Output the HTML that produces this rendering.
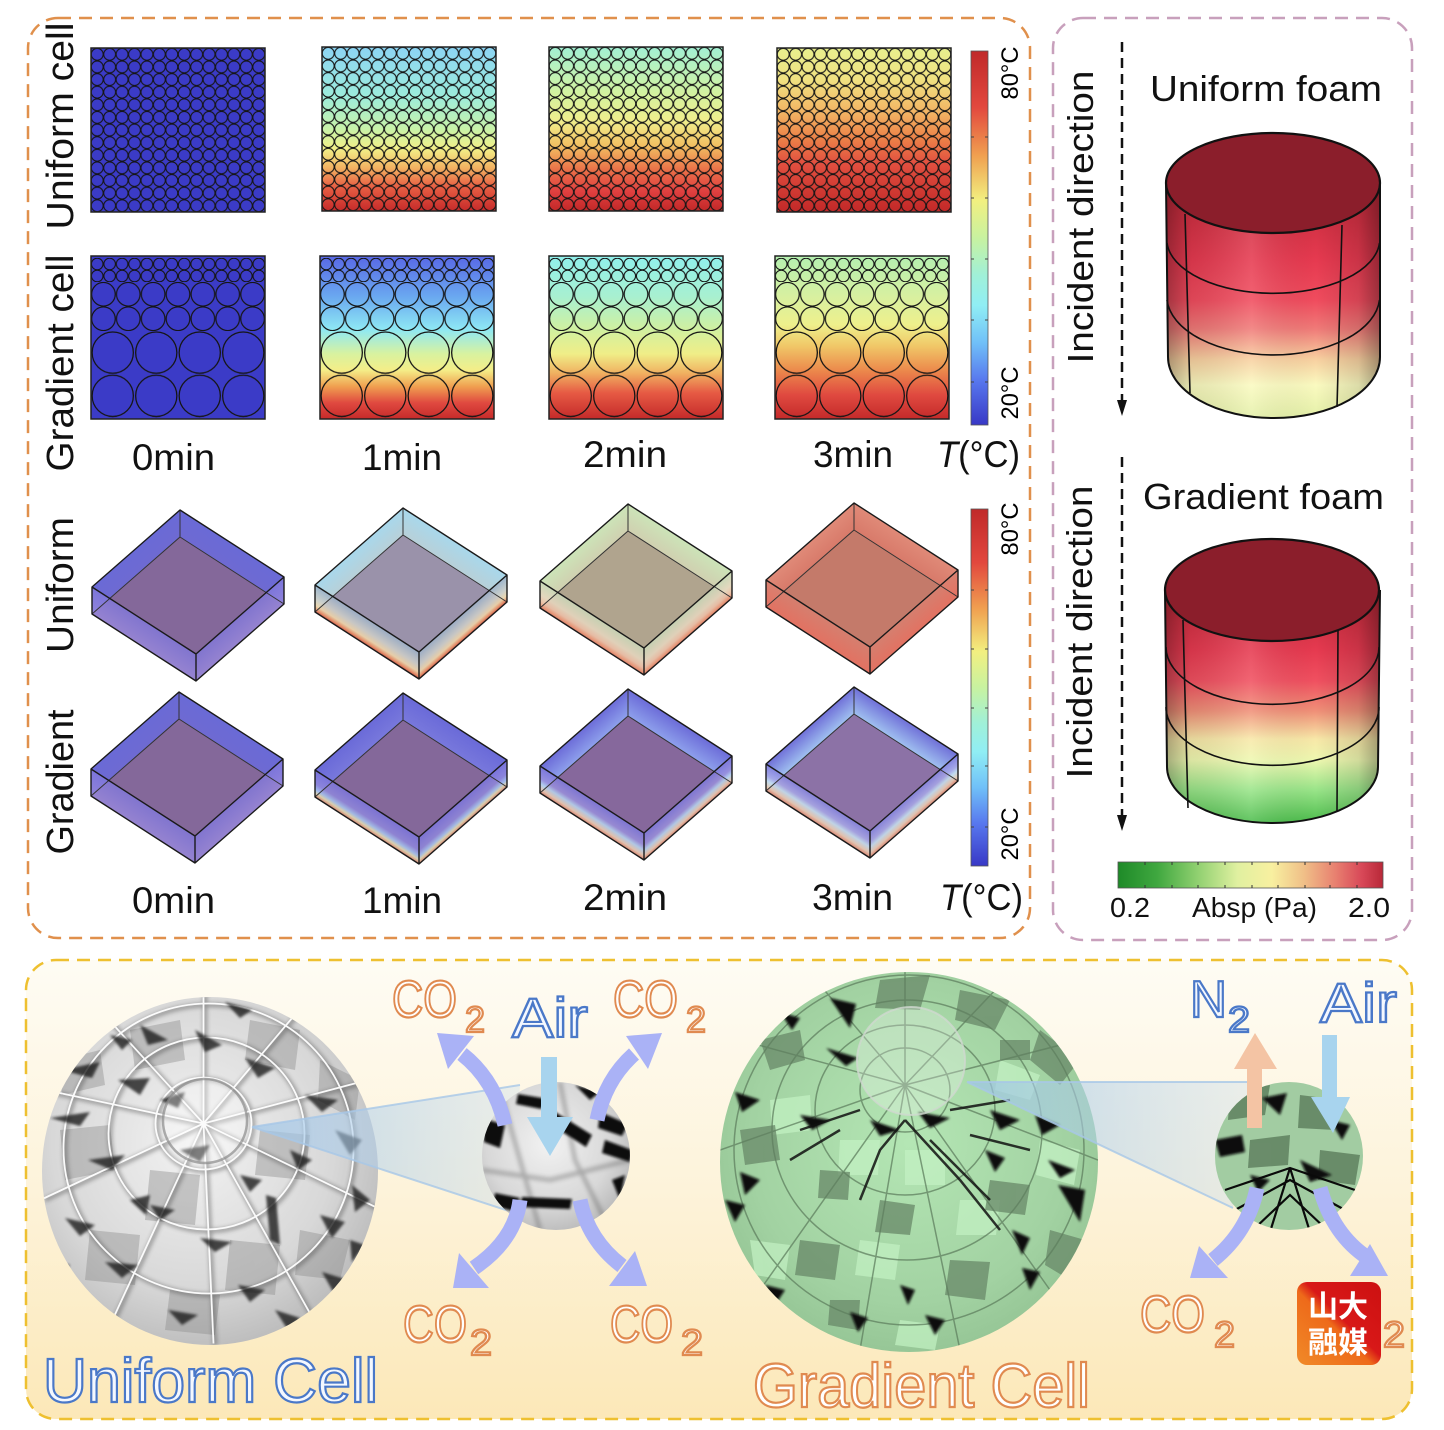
<!DOCTYPE html>
<html><head><meta charset="utf-8">
<style>
html,body{margin:0;padding:0;background:#fff}
svg{display:block}
text{font-family:"Liberation Sans","Noto Sans CJK SC",sans-serif}
</style></head>
<body>
<svg width="1444" height="1430" viewBox="0 0 1444 1430" xmlns="http://www.w3.org/2000/svg">
<defs>
<linearGradient id="cbar" x1="0" y1="0" x2="0" y2="1">
 <stop offset="0" stop-color="#c02a2a"/><stop offset="0.15" stop-color="#e2483e"/>
 <stop offset="0.28" stop-color="#f0a050"/><stop offset="0.4" stop-color="#f2f080"/>
 <stop offset="0.5" stop-color="#c8f2a0"/><stop offset="0.6" stop-color="#a0f0d8"/>
 <stop offset="0.68" stop-color="#90eef4"/><stop offset="0.78" stop-color="#70c0f8"/>
 <stop offset="0.88" stop-color="#5878ee"/><stop offset="1" stop-color="#3838c6"/>
</linearGradient>
<linearGradient id="gu1" x1="0" y1="0" x2="0" y2="1">
 <stop offset="0" stop-color="#8cd4f4"/><stop offset="0.3" stop-color="#9cecdc"/>
 <stop offset="0.5" stop-color="#c8f2a8"/><stop offset="0.62" stop-color="#f2f088"/>
 <stop offset="0.74" stop-color="#f2b060"/><stop offset="0.85" stop-color="#e86044"/>
 <stop offset="1" stop-color="#c62a2a"/>
</linearGradient>
<linearGradient id="gu2" x1="0" y1="0" x2="0" y2="1">
 <stop offset="0" stop-color="#a2f0d4"/><stop offset="0.28" stop-color="#d2f2a0"/>
 <stop offset="0.45" stop-color="#f0ee8c"/><stop offset="0.6" stop-color="#f2c062"/>
 <stop offset="0.75" stop-color="#ea7048"/><stop offset="0.88" stop-color="#e04040"/>
 <stop offset="1" stop-color="#c22828"/>
</linearGradient>
<linearGradient id="gu3" x1="0" y1="0" x2="0" y2="1">
 <stop offset="0" stop-color="#e8f08e"/><stop offset="0.2" stop-color="#f0e080"/>
 <stop offset="0.4" stop-color="#f2b262"/><stop offset="0.55" stop-color="#ec8248"/>
 <stop offset="0.7" stop-color="#e25040"/><stop offset="1" stop-color="#c22828"/>
</linearGradient>
<linearGradient id="gg1" x1="0" y1="0" x2="0" y2="1">
 <stop offset="0" stop-color="#5868e6"/><stop offset="0.25" stop-color="#6aa8f0"/>
 <stop offset="0.45" stop-color="#8ee8f4"/><stop offset="0.6" stop-color="#d8f2a0"/>
 <stop offset="0.7" stop-color="#f4ee88"/><stop offset="0.8" stop-color="#f0a050"/>
 <stop offset="0.9" stop-color="#e04a40"/><stop offset="1" stop-color="#c62a2a"/>
</linearGradient>
<linearGradient id="gg2" x1="0" y1="0" x2="0" y2="1">
 <stop offset="0" stop-color="#90f0ec"/><stop offset="0.25" stop-color="#a8f0d0"/>
 <stop offset="0.45" stop-color="#d0f0a0"/><stop offset="0.6" stop-color="#f0ee88"/>
 <stop offset="0.72" stop-color="#f0b060"/><stop offset="0.84" stop-color="#e65a44"/>
 <stop offset="1" stop-color="#c42a2a"/>
</linearGradient>
<linearGradient id="gg3" x1="0" y1="0" x2="0" y2="1">
 <stop offset="0" stop-color="#b4f0b0"/><stop offset="0.25" stop-color="#d8f0a0"/>
 <stop offset="0.42" stop-color="#eef08c"/><stop offset="0.55" stop-color="#f0c868"/>
 <stop offset="0.7" stop-color="#ec8a4c"/><stop offset="0.85" stop-color="#e04a40"/>
 <stop offset="1" stop-color="#c42a2a"/>
</linearGradient>
<pattern id="pU" patternUnits="userSpaceOnUse" x="0" y="0" width="12.4286" height="12.615"><circle cx="6.214" cy="6.31" r="5.95" fill="none" stroke="#151515" stroke-width="1.1"/></pattern>
<pattern id="pS" patternUnits="userSpaceOnUse" x="0" y="2" width="12.4286" height="12"><circle cx="6.214" cy="6" r="5.8" fill="none" stroke="#151515" stroke-width="1.1"/></pattern>
<pattern id="pM" patternUnits="userSpaceOnUse" x="0" y="26" width="24.857" height="24.5"><circle cx="12.43" cy="12.25" r="11.8" fill="none" stroke="#151515" stroke-width="1.2"/></pattern>
<pattern id="pL" patternUnits="userSpaceOnUse" x="0" y="75" width="43.5" height="43.2"><circle cx="21.75" cy="21.6" r="20.6" fill="none" stroke="#151515" stroke-width="1.3"/></pattern>

<linearGradient id="b0" x1="0" y1="0" x2="0" y2="1"><stop offset="0" stop-color="#6a6ad6"/><stop offset="1" stop-color="#6e6ad2"/></linearGradient>
<linearGradient id="f0" x1="0" y1="0" x2="0" y2="1"><stop offset="0" stop-color="#8078dc"/><stop offset="1" stop-color="#9a8ade"/></linearGradient>
<linearGradient id="b1" x1="0" y1="0" x2="0" y2="1"><stop offset="0" stop-color="#a8d8ec"/><stop offset="1" stop-color="#b8d0d8"/></linearGradient>
<linearGradient id="f1" x1="0" y1="0" x2="0" y2="1"><stop offset="0" stop-color="#9ab0c8"/><stop offset="0.5" stop-color="#d0d0c8"/><stop offset="0.75" stop-color="#f4d8a8"/><stop offset="0.9" stop-color="#f09060"/><stop offset="1" stop-color="#d84838"/></linearGradient>
<linearGradient id="b2" x1="0" y1="0" x2="0" y2="1"><stop offset="0" stop-color="#cce4b8"/><stop offset="1" stop-color="#d0d0b0"/></linearGradient>
<linearGradient id="f2" x1="0" y1="0" x2="0" y2="1"><stop offset="0" stop-color="#c8d8b8"/><stop offset="0.5" stop-color="#e8d8c0"/><stop offset="0.75" stop-color="#f0c0a8"/><stop offset="0.9" stop-color="#f09878"/><stop offset="1" stop-color="#e07060"/></linearGradient>
<linearGradient id="b3" x1="0" y1="0" x2="0" y2="1"><stop offset="0" stop-color="#e08a78"/><stop offset="1" stop-color="#d87a6a"/></linearGradient>
<linearGradient id="f3" x1="0" y1="0" x2="0" y2="1"><stop offset="0" stop-color="#d88070"/><stop offset="1" stop-color="#e87060"/></linearGradient>
<linearGradient id="bg1" x1="0" y1="0" x2="0" y2="1"><stop offset="0" stop-color="#6a6ad8"/><stop offset="1" stop-color="#7878dc"/></linearGradient>
<linearGradient id="fg1" x1="0" y1="0" x2="0" y2="1"><stop offset="0" stop-color="#7a74dc"/><stop offset="0.5" stop-color="#9088dc"/><stop offset="0.72" stop-color="#a8c8f0"/><stop offset="0.85" stop-color="#e8e0b0"/><stop offset="1" stop-color="#e88868"/></linearGradient>
<linearGradient id="bg2" x1="0" y1="0" x2="0" y2="1"><stop offset="0" stop-color="#6c6cd8"/><stop offset="1" stop-color="#8ea0ec"/></linearGradient>
<linearGradient id="fg2" x1="0" y1="0" x2="0" y2="1"><stop offset="0" stop-color="#7c78dc"/><stop offset="0.45" stop-color="#9a90dc"/><stop offset="0.65" stop-color="#b8d8f0"/><stop offset="0.85" stop-color="#f0d0b0"/><stop offset="1" stop-color="#e88868"/></linearGradient>
<linearGradient id="bg3" x1="0" y1="0" x2="0" y2="1"><stop offset="0" stop-color="#7070d8"/><stop offset="1" stop-color="#a0c0f0"/></linearGradient>
<linearGradient id="fg3" x1="0" y1="0" x2="0" y2="1"><stop offset="0" stop-color="#8484e0"/><stop offset="0.4" stop-color="#a8a8e8"/><stop offset="0.6" stop-color="#c8e4f0"/><stop offset="0.82" stop-color="#f0d0b0"/><stop offset="1" stop-color="#e88868"/></linearGradient>

<linearGradient id="cylU" gradientUnits="userSpaceOnUse" x1="0" y1="183" x2="0" y2="418">
 <stop offset="0" stop-color="#c02838"/><stop offset="0.33" stop-color="#e63a50"/>
 <stop offset="0.5" stop-color="#f04c5e"/><stop offset="0.62" stop-color="#f07a78"/>
 <stop offset="0.75" stop-color="#f8d0a0"/><stop offset="0.86" stop-color="#fafac0"/>
 <stop offset="1" stop-color="#e4f0a8"/>
</linearGradient>
<linearGradient id="cylG" gradientUnits="userSpaceOnUse" x1="0" y1="590" x2="0" y2="823">
 <stop offset="0" stop-color="#c02838"/><stop offset="0.26" stop-color="#e63a50"/>
 <stop offset="0.39" stop-color="#f05060"/><stop offset="0.52" stop-color="#f09078"/>
 <stop offset="0.64" stop-color="#f8e8a8"/><stop offset="0.73" stop-color="#eef8b0"/>
 <stop offset="0.86" stop-color="#98e488"/><stop offset="1" stop-color="#4cbc4c"/>
</linearGradient>
<linearGradient id="cylShade" x1="0" y1="0" x2="1" y2="0">
 <stop offset="0" stop-color="#000" stop-opacity="0.32"/><stop offset="0.12" stop-color="#000" stop-opacity="0.08"/>
 <stop offset="0.4" stop-color="#fff" stop-opacity="0.12"/><stop offset="0.7" stop-color="#000" stop-opacity="0"/>
 <stop offset="0.9" stop-color="#000" stop-opacity="0.12"/><stop offset="1" stop-color="#000" stop-opacity="0.35"/>
</linearGradient>
<linearGradient id="absp" x1="0" y1="0" x2="1" y2="0">
 <stop offset="0" stop-color="#1e8a28"/><stop offset="0.15" stop-color="#40a840"/>
 <stop offset="0.3" stop-color="#90d070"/><stop offset="0.45" stop-color="#e0f0a0"/>
 <stop offset="0.58" stop-color="#f8f0a0"/><stop offset="0.7" stop-color="#f0c088"/>
 <stop offset="0.82" stop-color="#e88070"/><stop offset="0.92" stop-color="#d84858"/>
 <stop offset="1" stop-color="#b82838"/>
</linearGradient>

<linearGradient id="bgY" x1="0" y1="0" x2="0" y2="1">
 <stop offset="0" stop-color="#fefcf4"/><stop offset="0.5" stop-color="#fdf3da"/><stop offset="1" stop-color="#fce8b8"/>
</linearGradient>
<radialGradient id="sphU" cx="0.45" cy="0.42" r="0.6">
 <stop offset="0" stop-color="#f2f2f2"/><stop offset="0.7" stop-color="#d8d8d8"/><stop offset="1" stop-color="#bcbcbc"/>
</radialGradient>
<radialGradient id="sphG" cx="0.5" cy="0.45" r="0.6">
 <stop offset="0" stop-color="#b4e6b4"/><stop offset="0.7" stop-color="#a2d2a2"/><stop offset="1" stop-color="#92c292"/>
</radialGradient>
<linearGradient id="cone" x1="0" y1="0" x2="1" y2="0">
 <stop offset="0" stop-color="#9cc4e8" stop-opacity="0.7"/><stop offset="1" stop-color="#c8ddf0" stop-opacity="0.35"/>
</linearGradient>
<linearGradient id="logo" x1="0" y1="1" x2="1" y2="0">
 <stop offset="0" stop-color="#f08a28"/><stop offset="0.45" stop-color="#ee6a1a"/><stop offset="0.55" stop-color="#d81818"/><stop offset="1" stop-color="#cc1010"/>
</linearGradient>
<clipPath id="cU"><ellipse cx="210" cy="1171" rx="168" ry="174"/></clipPath>
<clipPath id="cG"><ellipse cx="909" cy="1162" rx="189" ry="190"/></clipPath>
<clipPath id="cUs"><circle cx="556" cy="1156" r="74"/></clipPath>
<clipPath id="cGs"><circle cx="1289" cy="1156" r="74"/></clipPath>
<filter id="bl" x="-20%" y="-20%" width="140%" height="140%"><feGaussianBlur stdDeviation="1.2"/></filter>
<filter id="bl2" x="-20%" y="-20%" width="140%" height="140%"><feGaussianBlur stdDeviation="2"/></filter>
</defs>

<rect width="1444" height="1430" fill="#fff"/>

<rect x="28" y="18" width="1002" height="920" rx="30" fill="none" stroke="#e0904c" stroke-width="2.5" stroke-dasharray="13 8"/>
<rect x="1053" y="18" width="359" height="922" rx="30" fill="none" stroke="#c8a0bc" stroke-width="2.5" stroke-dasharray="13 8"/>
<rect x="26" y="960" width="1386" height="459" rx="30" fill="url(#bgY)" stroke="#eec030" stroke-width="2.5" stroke-dasharray="13 8"/>

<g transform="translate(91,48)"><rect width="174" height="164" fill="#3b3bc7"/><rect width="174" height="164" fill="url(#pU)"/><rect width="174" height="164" fill="none" stroke="#222" stroke-width="1.5"/></g>
<g transform="translate(322,47)"><rect width="174" height="164" fill="url(#gu1)"/><rect width="174" height="164" fill="url(#pU)"/><rect width="174" height="164" fill="none" stroke="#222" stroke-width="1.5"/></g>
<g transform="translate(549,47)"><rect width="174" height="164" fill="url(#gu2)"/><rect width="174" height="164" fill="url(#pU)"/><rect width="174" height="164" fill="none" stroke="#222" stroke-width="1.5"/></g>
<g transform="translate(777,48)"><rect width="174" height="164" fill="url(#gu3)"/><rect width="174" height="164" fill="url(#pU)"/><rect width="174" height="164" fill="none" stroke="#222" stroke-width="1.5"/></g>

<g transform="translate(91,256)"><rect width="174" height="163" fill="#3b3bc7"/><rect y="2" width="174" height="24" fill="url(#pS)"/><rect y="26" width="174" height="49" fill="url(#pM)"/><rect y="75" width="174" height="87" fill="url(#pL)"/><rect width="174" height="163" fill="none" stroke="#222" stroke-width="1.5"/></g>
<g transform="translate(320,256)"><rect width="174" height="163" fill="url(#gg1)"/><rect y="2" width="174" height="24" fill="url(#pS)"/><rect y="26" width="174" height="49" fill="url(#pM)"/><rect y="75" width="174" height="87" fill="url(#pL)"/><rect width="174" height="163" fill="none" stroke="#222" stroke-width="1.5"/></g>
<g transform="translate(549,256)"><rect width="174" height="163" fill="url(#gg2)"/><rect y="2" width="174" height="24" fill="url(#pS)"/><rect y="26" width="174" height="49" fill="url(#pM)"/><rect y="75" width="174" height="87" fill="url(#pL)"/><rect width="174" height="163" fill="none" stroke="#222" stroke-width="1.5"/></g>
<g transform="translate(775,256)"><rect width="174" height="163" fill="url(#gg3)"/><rect y="2" width="174" height="24" fill="url(#pS)"/><rect y="26" width="174" height="49" fill="url(#pM)"/><rect y="75" width="174" height="87" fill="url(#pL)"/><rect width="174" height="163" fill="none" stroke="#222" stroke-width="1.5"/></g>

<rect x="971" y="51" width="17" height="374" fill="url(#cbar)" stroke="#555" stroke-width="0.8"/>
<path d="M971,137h3M985,137h3M971,198h3M985,198h3M971,259h3M985,259h3M971,320h3M985,320h3M971,382h3M985,382h3" stroke="#444" stroke-width="1"/>
<text transform="translate(1018,73) rotate(-90)" font-size="24" text-anchor="middle" textLength="53" lengthAdjust="spacingAndGlyphs">80°C</text>
<text transform="translate(1018,393) rotate(-90)" font-size="24" text-anchor="middle" textLength="53" lengthAdjust="spacingAndGlyphs">20°C</text>

<g font-size="38" fill="#111">
<text transform="translate(73,126) rotate(-90)" text-anchor="middle" textLength="207" lengthAdjust="spacingAndGlyphs">Uniform cell</text>
<text transform="translate(73,363) rotate(-90)" text-anchor="middle" textLength="217" lengthAdjust="spacingAndGlyphs">Gradient cell</text>
<text transform="translate(73,585) rotate(-90)" text-anchor="middle" textLength="136" lengthAdjust="spacingAndGlyphs">Uniform</text>
<text transform="translate(73,782) rotate(-90)" text-anchor="middle" textLength="145" lengthAdjust="spacingAndGlyphs">Gradient</text>
</g>
<g font-size="37" fill="#111">
<text x="132" y="470" textLength="83" lengthAdjust="spacingAndGlyphs">0min</text>
<text x="362" y="470" textLength="80" lengthAdjust="spacingAndGlyphs">1min</text>
<text x="583" y="467" textLength="84" lengthAdjust="spacingAndGlyphs">2min</text>
<text x="813" y="467" textLength="80" lengthAdjust="spacingAndGlyphs">3min</text>
<text x="937" y="467" textLength="83" lengthAdjust="spacingAndGlyphs"><tspan font-style="italic">T</tspan>(°C)</text>
<text x="132" y="913" textLength="83" lengthAdjust="spacingAndGlyphs">0min</text>
<text x="362" y="913" textLength="80" lengthAdjust="spacingAndGlyphs">1min</text>
<text x="583" y="910" textLength="84" lengthAdjust="spacingAndGlyphs">2min</text>
<text x="812" y="910" textLength="81" lengthAdjust="spacingAndGlyphs">3min</text>
<text x="940" y="910" textLength="83" lengthAdjust="spacingAndGlyphs"><tspan font-style="italic">T</tspan>(°C)</text>
</g>

<g>
<g transform="translate(180,510)">
 <rect width="1" height="1" transform="matrix(-88,77,0,27,0,0)" fill="url(#b0)"/>
 <rect width="1" height="1" transform="matrix(104,67,0,27,0,0)" fill="url(#b0)"/>
 <polygon points="0,27 104,94 16,171 -88,104" fill="#84689a"/>
 <rect width="1" height="1" transform="matrix(104,67,0,27,-88,77)" fill="url(#f0)" opacity="0.8"/>
 <rect width="1" height="1" transform="matrix(88,-77,0,27,16,144)" fill="url(#f0)" opacity="0.8"/>
 <path d="M0,0V27L-88,104M0,27L104,94" stroke="#333" stroke-width="1" fill="none"/>
 <path d="M0,0L104,67V94L16,171L-88,104V77ZM-88,77L16,144L104,67M16,144V171" stroke="#1a1a1a" stroke-width="1.4" fill="none" stroke-linejoin="round"/>
</g>
<g transform="translate(403,508)">
 <rect width="1" height="1" transform="matrix(-88,77,0,27,0,0)" fill="url(#b1)"/>
 <rect width="1" height="1" transform="matrix(104,67,0,27,0,0)" fill="url(#b1)"/>
 <polygon points="0,27 104,94 16,171 -88,104" fill="#9a92aa"/>
 <rect width="1" height="1" transform="matrix(104,67,0,27,-88,77)" fill="url(#f1)" opacity="0.85"/>
 <rect width="1" height="1" transform="matrix(88,-77,0,27,16,144)" fill="url(#f1)" opacity="0.85"/>
 <path d="M0,0V27L-88,104M0,27L104,94" stroke="#333" stroke-width="1" fill="none"/>
 <path d="M0,0L104,67V94L16,171L-88,104V77ZM-88,77L16,144L104,67M16,144V171" stroke="#1a1a1a" stroke-width="1.4" fill="none" stroke-linejoin="round"/>
</g>
<g transform="translate(628,504)">
 <rect width="1" height="1" transform="matrix(-88,77,0,27,0,0)" fill="url(#b2)"/>
 <rect width="1" height="1" transform="matrix(104,67,0,27,0,0)" fill="url(#b2)"/>
 <polygon points="0,27 104,94 16,171 -88,104" fill="#b0a48e"/>
 <rect width="1" height="1" transform="matrix(104,67,0,27,-88,77)" fill="url(#f2)" opacity="0.85"/>
 <rect width="1" height="1" transform="matrix(88,-77,0,27,16,144)" fill="url(#f2)" opacity="0.85"/>
 <path d="M0,0V27L-88,104M0,27L104,94" stroke="#333" stroke-width="1" fill="none"/>
 <path d="M0,0L104,67V94L16,171L-88,104V77ZM-88,77L16,144L104,67M16,144V171" stroke="#1a1a1a" stroke-width="1.4" fill="none" stroke-linejoin="round"/>
</g>
<g transform="translate(854,503)">
 <rect width="1" height="1" transform="matrix(-88,77,0,27,0,0)" fill="url(#b3)"/>
 <rect width="1" height="1" transform="matrix(104,67,0,27,0,0)" fill="url(#b3)"/>
 <polygon points="0,27 104,94 16,171 -88,104" fill="#c47a6a"/>
 <rect width="1" height="1" transform="matrix(104,67,0,27,-88,77)" fill="url(#f3)" opacity="0.85"/>
 <rect width="1" height="1" transform="matrix(88,-77,0,27,16,144)" fill="url(#f3)" opacity="0.85"/>
 <path d="M0,0V27L-88,104M0,27L104,94" stroke="#333" stroke-width="1" fill="none"/>
 <path d="M0,0L104,67V94L16,171L-88,104V77ZM-88,77L16,144L104,67M16,144V171" stroke="#1a1a1a" stroke-width="1.4" fill="none" stroke-linejoin="round"/>
</g>
<g transform="translate(179,692)">
 <rect width="1" height="1" transform="matrix(-88,77,0,27,0,0)" fill="url(#b0)"/>
 <rect width="1" height="1" transform="matrix(104,67,0,27,0,0)" fill="url(#b0)"/>
 <polygon points="0,27 104,94 16,171 -88,104" fill="#84689a"/>
 <rect width="1" height="1" transform="matrix(104,67,0,27,-88,77)" fill="url(#f0)" opacity="0.8"/>
 <rect width="1" height="1" transform="matrix(88,-77,0,27,16,144)" fill="url(#f0)" opacity="0.8"/>
 <path d="M0,0V27L-88,104M0,27L104,94" stroke="#333" stroke-width="1" fill="none"/>
 <path d="M0,0L104,67V94L16,171L-88,104V77ZM-88,77L16,144L104,67M16,144V171" stroke="#1a1a1a" stroke-width="1.4" fill="none" stroke-linejoin="round"/>
</g>
<g transform="translate(403,693)">
 <rect width="1" height="1" transform="matrix(-88,77,0,27,0,0)" fill="url(#bg1)"/>
 <rect width="1" height="1" transform="matrix(104,67,0,27,0,0)" fill="url(#bg1)"/>
 <polygon points="0,27 104,94 16,171 -88,104" fill="#84689a"/>
 <rect width="1" height="1" transform="matrix(104,67,0,27,-88,77)" fill="url(#fg1)" opacity="0.85"/>
 <rect width="1" height="1" transform="matrix(88,-77,0,27,16,144)" fill="url(#fg1)" opacity="0.85"/>
 <path d="M0,0V27L-88,104M0,27L104,94" stroke="#333" stroke-width="1" fill="none"/>
 <path d="M0,0L104,67V94L16,171L-88,104V77ZM-88,77L16,144L104,67M16,144V171" stroke="#1a1a1a" stroke-width="1.4" fill="none" stroke-linejoin="round"/>
</g>
<g transform="translate(628,689)">
 <rect width="1" height="1" transform="matrix(-88,77,0,27,0,0)" fill="url(#bg2)"/>
 <rect width="1" height="1" transform="matrix(104,67,0,27,0,0)" fill="url(#bg2)"/>
 <polygon points="0,27 104,94 16,171 -88,104" fill="#86689c"/>
 <rect width="1" height="1" transform="matrix(104,67,0,27,-88,77)" fill="url(#fg2)" opacity="0.85"/>
 <rect width="1" height="1" transform="matrix(88,-77,0,27,16,144)" fill="url(#fg2)" opacity="0.85"/>
 <path d="M0,0V27L-88,104M0,27L104,94" stroke="#333" stroke-width="1" fill="none"/>
 <path d="M0,0L104,67V94L16,171L-88,104V77ZM-88,77L16,144L104,67M16,144V171" stroke="#1a1a1a" stroke-width="1.4" fill="none" stroke-linejoin="round"/>
</g>
<g transform="translate(854,687)">
 <rect width="1" height="1" transform="matrix(-88,77,0,27,0,0)" fill="url(#bg3)"/>
 <rect width="1" height="1" transform="matrix(104,67,0,27,0,0)" fill="url(#bg3)"/>
 <polygon points="0,27 104,94 16,171 -88,104" fill="#8c72a6"/>
 <rect width="1" height="1" transform="matrix(104,67,0,27,-88,77)" fill="url(#fg3)" opacity="0.85"/>
 <rect width="1" height="1" transform="matrix(88,-77,0,27,16,144)" fill="url(#fg3)" opacity="0.85"/>
 <path d="M0,0V27L-88,104M0,27L104,94" stroke="#333" stroke-width="1" fill="none"/>
 <path d="M0,0L104,67V94L16,171L-88,104V77ZM-88,77L16,144L104,67M16,144V171" stroke="#1a1a1a" stroke-width="1.4" fill="none" stroke-linejoin="round"/>
</g>
</g>

<rect x="971" y="509" width="17" height="357" fill="url(#cbar)" stroke="#555" stroke-width="0.8"/>
<path d="M971,590h3M985,590h3M971,649h3M985,649h3M971,708h3M985,708h3M971,766h3M985,766h3M971,827h3M985,827h3" stroke="#444" stroke-width="1"/>
<text transform="translate(1018,529) rotate(-90)" font-size="24" text-anchor="middle" textLength="53" lengthAdjust="spacingAndGlyphs">80°C</text>
<text transform="translate(1018,834) rotate(-90)" font-size="24" text-anchor="middle" textLength="53" lengthAdjust="spacingAndGlyphs">20°C</text>

<g font-size="36" fill="#111">
<text transform="translate(1093,217) rotate(-90)" text-anchor="middle" textLength="293" lengthAdjust="spacingAndGlyphs">Incident direction</text>
<text transform="translate(1092,632) rotate(-90)" text-anchor="middle" textLength="293" lengthAdjust="spacingAndGlyphs">Incident direction</text>
<text x="1150" y="101" textLength="232" lengthAdjust="spacingAndGlyphs">Uniform foam</text>
<text x="1143" y="509" textLength="241" lengthAdjust="spacingAndGlyphs">Gradient foam</text>
</g>
<path d="M1122,42V402M1122,457V817" stroke="#111" stroke-width="2.5" stroke-dasharray="10 6"/>
<polygon points="1117,400 1127,400 1122,416" fill="#111"/>
<polygon points="1117,815 1127,815 1122,831" fill="#111"/>

<path d="M1166,183L1168,357A106,61 0 0 0 1380,357L1380,183Z" fill="url(#cylU)"/>
<path d="M1166,183L1168,357A106,61 0 0 0 1380,357L1380,183Z" fill="url(#cylShade)"/>
<path d="M1167,243A106.5,54 0 0 0 1379.5,243M1167,300A106.5,59 0 0 0 1379.5,300M1185,214L1190,393M1342,225L1337,407" stroke="#111" stroke-width="1.6" fill="none"/>
<path d="M1166,183L1168,357A106,61 0 0 0 1380,357L1380,183" stroke="#111" stroke-width="2" fill="none"/>
<ellipse cx="1273" cy="183" rx="107" ry="50" fill="#8b1e2b" stroke="#111" stroke-width="2.2"/>

<path d="M1165,590L1167,767A105.5,56 0 0 0 1378,767L1380,590Z" fill="url(#cylG)"/>
<path d="M1165,590L1167,767A105.5,56 0 0 0 1378,767L1380,590Z" fill="url(#cylShade)"/>
<path d="M1166,647A106,57 0 0 0 1379,647M1166,707A106,58 0 0 0 1379,707M1183,620L1188,808M1338,630L1337,812" stroke="#111" stroke-width="1.6" fill="none"/>
<path d="M1165,590L1167,767A105.5,56 0 0 0 1378,767L1380,590" stroke="#111" stroke-width="2" fill="none"/>
<ellipse cx="1272" cy="590" rx="107" ry="51" fill="#8b1e2b" stroke="#111" stroke-width="2.2"/>

<rect x="1118" y="862" width="265" height="26" fill="url(#absp)" stroke="#555" stroke-width="0.8"/>
<path d="M1145,862v3M1172,862v3M1198,862v3M1225,862v3M1252,862v3M1278,862v3M1305,862v3M1330,862v3M1357,862v3M1145,888v-3M1172,888v-3M1198,888v-3M1225,888v-3M1252,888v-3M1278,888v-3M1305,888v-3M1330,888v-3M1357,888v-3" stroke="#333" stroke-width="1"/>
<g font-size="28" fill="#111">
<text x="1110" y="917" textLength="40" lengthAdjust="spacingAndGlyphs">0.2</text>
<text x="1192" y="917" textLength="125" lengthAdjust="spacingAndGlyphs">Absp (Pa)</text>
<text x="1348" y="917" textLength="42" lengthAdjust="spacingAndGlyphs">2.0</text>
</g>

<!-- uniform sphere -->
<ellipse cx="210" cy="1171" rx="168" ry="174" fill="url(#sphU)"/>
<g clip-path="url(#cU)">
 <g fill="#8a8a8a" opacity="0.4">
  <polygon points="60,1130 110,1125 115,1170 65,1180"/>
  <polygon points="150,1170 200,1175 195,1225 145,1220"/>
  <polygon points="260,1130 310,1135 305,1180 255,1175"/>
  <polygon points="230,1240 280,1245 275,1295 225,1290"/>
  <polygon points="90,1230 140,1235 135,1285 85,1280"/>
  <polygon points="300,1230 350,1240 340,1280 295,1275"/>
  <polygon points="130,1030 180,1020 185,1060 135,1070"/>
  <polygon points="250,1020 300,1030 295,1070 245,1060"/>
  <polygon points="320,1060 360,1080 355,1120 318,1100"/>
  <polygon points="60,1060 100,1050 105,1085 62,1095"/>
  <polygon points="170,1290 220,1295 215,1335 165,1330"/>
 </g>
 <g fill="none" stroke="#3a3a3a" stroke-width="4" opacity="0.45" filter="url(#bl2)">
  <ellipse cx="205" cy="1125" rx="48" ry="46"/>
  <ellipse cx="208" cy="1135" rx="98" ry="96"/>
  <ellipse cx="210" cy="1150" rx="145" ry="145"/>
  <path d="M205,1125L205,990M205,1125L100,1010M205,1125L40,1090M205,1125L45,1200M205,1125L110,1330M205,1125L215,1345M205,1125L320,1330M205,1125L380,1210M205,1125L375,1080M205,1125L310,1000"/>
 </g>
 <g fill="none" stroke="#fff" stroke-width="1.8" opacity="0.95" transform="translate(-1.5,-1.5)">
  <ellipse cx="205" cy="1125" rx="48" ry="46"/>
  <ellipse cx="208" cy="1135" rx="98" ry="96"/>
  <ellipse cx="210" cy="1150" rx="145" ry="145"/>
  <path d="M205,1125L205,990M205,1125L100,1010M205,1125L40,1090M205,1125L45,1200M205,1125L110,1330M205,1125L215,1345M205,1125L320,1330M205,1125L380,1210M205,1125L375,1080M205,1125L310,1000"/>
 </g>
 <g fill="#1c1c1c" opacity="0.8" filter="url(#bl)">
  <polygon points="62,1070 100,1062 92,1078"/>
  <polygon points="50,1118 90,1112 80,1126"/>
  <polygon points="140,1025 168,1040 148,1045"/>
  <polygon points="118,1080 150,1078 140,1095"/>
  <polygon points="88,1160 125,1155 112,1170"/>
  <polygon points="180,1150 210,1145 200,1162"/>
  <polygon points="195,1030 222,1045 205,1052"/>
  <polygon points="245,1058 275,1068 258,1078"/>
  <polygon points="305,1095 338,1100 322,1112"/>
  <polygon points="335,1130 362,1140 350,1155"/>
  <polygon points="352,1185 370,1200 355,1212"/>
  <polygon points="266,1195 276,1198 280,1245 270,1240"/>
  <polygon points="200,1238 232,1242 215,1252"/>
  <polygon points="320,1215 345,1222 332,1238"/>
  <polygon points="105,1262 138,1265 122,1278"/>
  <polygon points="238,1285 265,1290 250,1302"/>
  <polygon points="322,1272 348,1280 335,1295"/>
  <polygon points="168,1310 198,1315 182,1325"/>
  <polygon points="275,1310 300,1318 288,1330"/>
  <polygon points="65,1218 95,1225 80,1236"/>
  <polygon points="225,1002 252,1010 240,1018"/>
  <polygon points="110,1035 132,1040 122,1050"/>
  <polygon points="150,1205 175,1210 160,1220"/>
  <polygon points="290,1150 312,1160 298,1170"/>
  <polygon points="45,1260 70,1265 58,1280"/>
  <polygon points="160,1100 185,1092 178,1108"/>
  <polygon points="240,1175 262,1180 250,1192"/>
  <polygon points="130,1200 150,1195 146,1215"/>
  <polygon points="350,1240 365,1245 352,1262"/>
 </g>
</g>
<circle cx="205" cy="1121" r="42" fill="#ffffff" fill-opacity="0.3" stroke="#8c8c8c" stroke-opacity="0.7" stroke-width="2.5"/>

<!-- green sphere -->
<ellipse cx="909" cy="1162" rx="189" ry="190" fill="url(#sphG)"/>
<g clip-path="url(#cG)">
 <g fill="#c4f2c4" opacity="0.7">
  <polygon points="905,1150 945,1150 945,1185 905,1185"/>
  <polygon points="860,1240 900,1245 895,1280 855,1275"/>
  <polygon points="750,1240 790,1245 785,1280 755,1275"/>
  <polygon points="1000,1060 1040,1075 1030,1100 995,1090"/>
  <polygon points="840,1140 880,1140 878,1175 838,1175"/>
  <polygon points="960,1200 1000,1200 996,1235 956,1235"/>
  <polygon points="770,1100 810,1095 812,1130 772,1135"/>
  <polygon points="1040,1140 1080,1150 1074,1185 1036,1175"/>
  <polygon points="900,1320 940,1325 935,1350 895,1345"/>
 </g>
 <g fill="#688868" opacity="0.75">
  <polygon points="880,980 930,975 920,1010 875,1008"/>
  <polygon points="960,990 1010,1000 995,1030 955,1020"/>
  <polygon points="1040,1030 1080,1060 1060,1085 1030,1060"/>
  <polygon points="760,1040 800,1030 805,1060 770,1070"/>
  <polygon points="740,1130 775,1125 780,1160 745,1165"/>
  <polygon points="1050,1230 1085,1240 1070,1280 1045,1265"/>
  <polygon points="800,1240 840,1245 835,1280 795,1275"/>
  <polygon points="950,1260 990,1262 985,1300 945,1295"/>
  <polygon points="880,1200 915,1205 910,1235 875,1232"/>
  <polygon points="990,1180 1030,1185 1025,1215 985,1210"/>
  <polygon points="820,1170 850,1172 848,1200 818,1198"/>
  <polygon points="1000,1040 1030,1040 1030,1060 1000,1060"/>
  <polygon points="830,1300 860,1300 858,1330 828,1325"/>
 </g>
 <g fill="none" stroke="#5f7f5f" stroke-width="1.5" opacity="0.75">
  <ellipse cx="905" cy="1090" rx="45" ry="42"/>
  <ellipse cx="905" cy="1110" rx="90" ry="85"/>
  <ellipse cx="907" cy="1130" rx="135" ry="130"/>
  <ellipse cx="909" cy="1150" rx="175" ry="175"/>
  <path d="M905,1085L905,970M905,1085L820,985M905,1085L740,1040M905,1085L720,1150M905,1085L760,1290M905,1085L860,1350M905,1085L960,1350M905,1085L1050,1290M905,1085L1098,1160M905,1085L1080,1040M905,1085L1000,985"/>
 </g>
 <g fill="#080808" filter="url(#bl)">
  <polygon points="830,998 856,1004 850,1028"/>
  <polygon points="780,1012 800,1018 792,1030"/>
  <polygon points="826,1048 858,1058 846,1066"/>
  <polygon points="735,1092 760,1100 742,1112"/>
  <polygon points="800,1115 830,1120 812,1130"/>
  <polygon points="918,1112 950,1118 930,1128"/>
  <polygon points="990,1110 1020,1120 1000,1130"/>
  <polygon points="1035,1115 1060,1125 1042,1135"/>
  <polygon points="740,1172 760,1180 745,1195"/>
  <polygon points="985,1150 1005,1158 995,1172"/>
  <polygon points="1058,1185 1085,1190 1080,1222"/>
  <polygon points="725,1200 745,1205 735,1222"/>
  <polygon points="1012,1230 1030,1238 1022,1255"/>
  <polygon points="1022,1268 1040,1272 1030,1290"/>
  <polygon points="765,1285 785,1290 775,1305"/>
  <polygon points="900,1285 915,1290 908,1305"/>
  <polygon points="850,1312 868,1318 858,1332"/>
  <polygon points="925,1315 945,1320 935,1335"/>
  <polygon points="1048,1160 1075,1170 1060,1178"/>
  <polygon points="870,1120 900,1130 880,1136"/>
 </g>
 <path d="M905,1120L960,1180L1000,1230M905,1120L880,1150L860,1200M860,1110L800,1130M950,1110L1010,1100M930,1140L990,1200M840,1130L790,1160M970,1135L1030,1150" stroke="#111" stroke-width="2.5" fill="none" opacity="0.85"/>
</g>
<circle cx="911" cy="1061" r="54" fill="#ffffff" fill-opacity="0.25" stroke="#d0d8d0" stroke-opacity="0.8" stroke-width="2"/>

<polygon points="252,1127 520,1085 512,1212" fill="url(#cone)"/>
<path d="M252,1127L520,1085M252,1127L512,1212" stroke="#a8c8e8" stroke-width="2" opacity="0.8"/>
<polygon points="967,1082 1250,1082 1233,1208" fill="url(#cone)"/>
<path d="M967,1082L1250,1082M967,1082L1233,1208" stroke="#a8c8e8" stroke-width="2" opacity="0.8"/>

<circle cx="556" cy="1156" r="74" fill="url(#sphU)"/>
<g clip-path="url(#cUs)">
 <path d="M500,1090L520,1160L540,1230M560,1082L575,1160L610,1230M482,1170L550,1180L630,1160" stroke="#555" stroke-width="4" fill="none" opacity="0.4" filter="url(#bl2)"/>
 <g fill="#111" filter="url(#bl)">
  <polygon points="482,1118 505,1125 500,1148 484,1142"/>
  <polygon points="555,1112 592,1135 586,1147 550,1124"/>
  <polygon points="600,1112 628,1124 622,1136 598,1128"/>
  <polygon points="605,1140 632,1150 630,1162 602,1153"/>
  <polygon points="495,1193 520,1198 513,1211 493,1206"/>
  <polygon points="522,1197 572,1199 570,1209 520,1207"/>
  <polygon points="518,1094 548,1099 541,1109 516,1104"/>
  <polygon points="575,1085 600,1092 590,1100"/>
  <polygon points="612,1180 625,1175 620,1200"/>
 </g>
</g>

<circle cx="1289" cy="1156" r="74" fill="#a2cca2"/>
<g clip-path="url(#cGs)">
 <g fill="#5c7c5c" opacity="0.8">
  <polygon points="1230,1090 1270,1085 1265,1115 1228,1120"/>
  <polygon points="1300,1095 1340,1100 1335,1130 1298,1128"/>
  <polygon points="1250,1140 1290,1135 1288,1165 1248,1168"/>
  <polygon points="1320,1150 1360,1155 1355,1185 1318,1180"/>
 </g>
 <g fill="#0a0a0a" filter="url(#bl)">
  <polygon points="1215,1140 1242,1135 1245,1152 1220,1157"/>
  <polygon points="1262,1098 1287,1093 1280,1115"/>
  <polygon points="1300,1160 1332,1175 1310,1182"/>
  <polygon points="1330,1120 1350,1125 1342,1140"/>
  <polygon points="1250,1175 1270,1180 1258,1192"/>
 </g>
 <path d="M1225,1190L1290,1168L1355,1190M1235,1210L1290,1180L1345,1210M1255,1228L1290,1195L1325,1228M1270,1232L1290,1168M1310,1232L1290,1168" stroke="#0a0a0a" stroke-width="2.2" fill="none"/>
</g>

<g fill="none" stroke="#aab2f6" stroke-width="15">
 <path d="M505,1125Q495,1080 462,1054"/>
 <path d="M597,1120Q605,1080 634,1054"/>
 <path d="M520,1200Q515,1240 474,1268"/>
 <path d="M580,1200Q588,1240 622,1266"/>
 <path d="M1257,1188Q1248,1232 1213,1260"/>
 <path d="M1320,1188Q1333,1235 1368,1258"/>
</g>
<g fill="#aab2f6">
 <polygon points="437,1033 448,1069 474,1036"/>
 <polygon points="662,1033 626,1036 648,1069"/>
 <polygon points="453,1288 459,1253 489,1288"/>
 <polygon points="647,1286 635,1251 609,1286"/>
 <polygon points="1190,1278 1199,1246 1228,1278"/>
 <polygon points="1388,1276 1370,1244 1350,1276"/>
</g>
<rect x="541" y="1057" width="16" height="62" fill="#a8d4ee"/>
<polygon points="527,1117 573,1117 550,1156" fill="#a8d4ee"/>
<rect x="1247" y="1066" width="15" height="62" fill="#f4c4a4"/>
<polygon points="1234,1069 1277,1069 1255,1033" fill="#f4c4a4"/>
<rect x="1322" y="1035" width="15" height="64" fill="#a8d4ee"/>
<polygon points="1311,1097 1350,1097 1333,1133" fill="#a8d4ee"/>

<g fill="#fff" stroke="#e08a50" stroke-width="2.2">
 <text x="392" y="1017" font-size="52" textLength="65" lengthAdjust="spacingAndGlyphs">CO</text>
 <text x="465" y="1032" font-size="36" textLength="20" lengthAdjust="spacingAndGlyphs">2</text>
 <text x="613" y="1017" font-size="52" textLength="65" lengthAdjust="spacingAndGlyphs">CO</text>
 <text x="686" y="1032" font-size="36" textLength="20" lengthAdjust="spacingAndGlyphs">2</text>
 <text x="403" y="1342" font-size="52" textLength="64" lengthAdjust="spacingAndGlyphs">CO</text>
 <text x="470" y="1355" font-size="36" textLength="22" lengthAdjust="spacingAndGlyphs">2</text>
 <text x="610" y="1342" font-size="52" textLength="63" lengthAdjust="spacingAndGlyphs">CO</text>
 <text x="681" y="1355" font-size="36" textLength="22" lengthAdjust="spacingAndGlyphs">2</text>
 <text x="1140" y="1332" font-size="52" textLength="65" lengthAdjust="spacingAndGlyphs">CO</text>
 <text x="1214" y="1347" font-size="36" textLength="21" lengthAdjust="spacingAndGlyphs">2</text>
 <text x="1383" y="1347" font-size="36" textLength="22" lengthAdjust="spacingAndGlyphs">2</text>
 <text x="753" y="1407" font-size="62" textLength="337" lengthAdjust="spacingAndGlyphs">Gradient Cell</text>
</g>
<g fill="#f4f8ff" stroke="#4a78c8" stroke-width="2.2">
 <text x="512" y="1037" font-size="56" textLength="76" lengthAdjust="spacingAndGlyphs">Air</text>
 <text x="1320" y="1022" font-size="56" textLength="77" lengthAdjust="spacingAndGlyphs">Air</text>
 <text x="1190" y="1017" font-size="52" textLength="37" lengthAdjust="spacingAndGlyphs">N</text>
 <text x="1228" y="1032" font-size="36" textLength="22" lengthAdjust="spacingAndGlyphs">2</text>
 <text x="43" y="1402" font-size="62" textLength="335" lengthAdjust="spacingAndGlyphs">Uniform Cell</text>
</g>

<rect x="1297" y="1282" width="84" height="83" rx="10" fill="url(#logo)"/>
<g fill="#fff" font-size="30" font-weight="bold" text-anchor="middle">
 <text x="1338" y="1317" font-family="'Noto Sans CJK SC','WenQuanYi Zen Hei',sans-serif">山大</text>
 <text x="1338" y="1353" font-family="'Noto Sans CJK SC','WenQuanYi Zen Hei',sans-serif">融媒</text>
</g>
</svg>
</body></html>
